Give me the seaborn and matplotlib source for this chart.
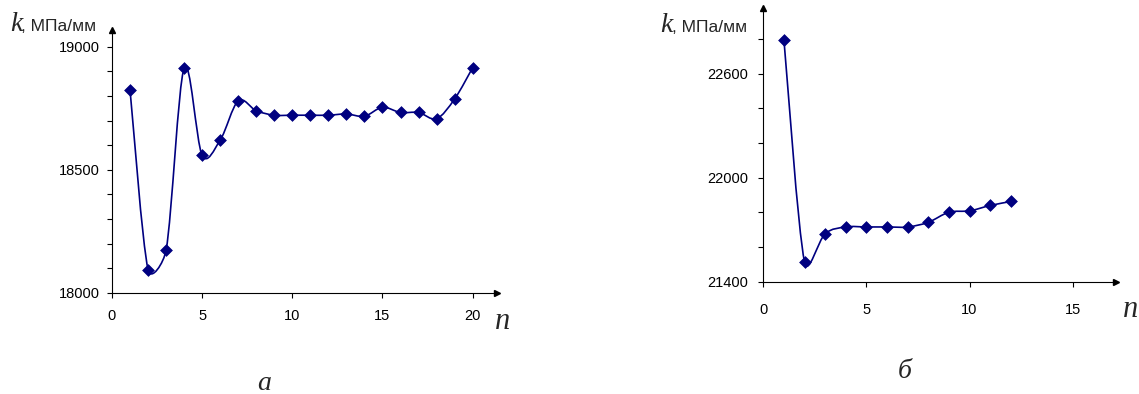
import numpy as np
import pandas as pd
import matplotlib
matplotlib.use("Agg")
import matplotlib.pyplot as plt
from matplotlib.path import Path
from matplotlib.patches import PathPatch
from matplotlib.ticker import MultipleLocator
import seaborn as sns

# Stiffness k (MPa/mm) versus number of cycles n
n_a = list(range(1, 21))
k_a = [18824, 18095, 18174, 18913, 18559, 18621, 18780, 18740, 18722, 18722,
       18722, 18722, 18727, 18718, 18754, 18733, 18733, 18708, 18788, 18915]

n_b = list(range(1, 13))
k_b = [22796, 21514, 21677, 21716, 21716, 21716, 21716, 21743, 21801, 21809,
       21840, 21863]

panel_letters = ["а", "б"]
x_ticks_a = [0, 5, 10, 15, 20]
x_ticks_b = [0, 5, 10, 15]
y_ticks_a = [18000, 18500, 19000]
y_ticks_b = [21400, 22000, 22600]

sns.set_theme(style="white")
plt.rcParams["font.family"] = ["Liberation Sans", "DejaVu Sans"]

LINE = "#000080"
W, H = 1139, 394
fig = plt.figure(figsize=(W / 100, H / 100), dpi=100)


def px_box(x0, y_top, x1, y_bot):
    return [x0 / W, 1 - y_bot / H, (x1 - x0) / W, (y_bot - y_top) / H]


def smooth_path(ax, x, y, tension=1 / 6, clip=0.5):
    """Smoothed line through the points: Catmull-Rom style Bezier handles,
    each limited to a fraction of the segment it belongs to (screen space)."""
    pts = ax.transData.transform(np.column_stack([x, y]).astype(float))
    m = len(pts)
    seg = np.linalg.norm(np.diff(pts, axis=0), axis=1)

    def handle(i, forward):
        prev_p = pts[i - 1] if i > 0 else pts[i]
        next_p = pts[i + 1] if i < m - 1 else pts[i]
        vec = (next_p - prev_p) * tension
        limit = clip * (seg[i] if forward else seg[i - 1])
        length = np.linalg.norm(vec)
        if length > limit > 0:
            vec = vec * limit / length
        return pts[i] + vec if forward else pts[i] - vec

    verts = [pts[0]]
    codes = [Path.MOVETO]
    for i in range(m - 1):
        verts += [handle(i, True), handle(i + 1, False), pts[i + 1]]
        codes += [Path.CURVE4] * 3
    verts = ax.transData.inverted().transform(np.array(verts))
    return Path(verts, codes)


def draw_panel(ax, n, k, xlim, ylim, xt, yt, minor, xpad, ypad):
    df = pd.DataFrame({"n": n, "k": k})
    ax.set_xlim(*xlim)
    ax.set_ylim(*ylim)
    sns.scatterplot(data=df, x="n", y="k", marker="D", s=36, color=LINE,
                    edgecolor=LINE, linewidth=0.5, ax=ax, zorder=3, legend=False)
    ax.set_xlim(*xlim)
    ax.set_ylim(*ylim)
    ax.add_patch(PathPatch(smooth_path(ax, df["n"], df["k"]), facecolor="none",
                           edgecolor=LINE, lw=1.2, zorder=2))
    ax.set_xticks(xt)
    ax.set_yticks(yt)
    ax.yaxis.set_minor_locator(MultipleLocator(minor))
    ax.set_xlabel("")
    ax.set_ylabel("")
    for s in ("top", "right"):
        ax.spines[s].set_visible(False)
    for s in ("left", "bottom"):
        ax.spines[s].set_color("black")
        ax.spines[s].set_linewidth(0.8)
    ax.tick_params(axis="both", which="both", direction="out", length=3.5,
                   width=0.8, color="black", labelsize=10.5, labelcolor="black")
    ax.tick_params(axis="x", pad=xpad, bottom=True)
    ax.tick_params(axis="y", which="both", pad=ypad, left=True)
    ax.tick_params(axis="x", which="minor", bottom=False)
    ax.patch.set_alpha(0)
    # arrowheads at the axis ends
    ax.plot(1, 0, ">", transform=ax.transAxes, clip_on=False, ms=4.5,
            color="black", zorder=5)
    ax.plot(0, 1, "^", transform=ax.transAxes, clip_on=False, ms=4.5,
            color="black", zorder=5)


ax_a = fig.add_axes(px_box(112, 30, 497, 293))
draw_panel(ax_a, n_a, k_a, (0, 21.35), (18000, 19068), x_ticks_a, y_ticks_a,
           100, 8, 5)

ax_b = fig.add_axes(px_box(763.3, 8, 1116, 281.7))
draw_panel(ax_b, n_b, k_b, (0, 17.1), (21400, 22980), x_ticks_b, y_ticks_b,
           200, 11.5, 7.5)

serif_it = dict(family="Liberation Serif", style="italic")


def fx(x):
    return x / W


def fy(y):
    return 1 - y / H


# axis titles
for x_k, x_u, y_b in [(10, 21, 31), (660, 672, 32)]:
    fig.text(fx(x_k), fy(y_b), "k", fontsize=20, va="baseline", ha="left", **serif_it)
    fig.text(fx(x_u), fy(y_b), ", МПа/мм", fontsize=12.5, va="baseline", ha="left",
             family=["Liberation Sans", "DejaVu Sans"])

fig.text(fx(495), fy(329), "n", fontsize=22, va="baseline", ha="left", **serif_it)
fig.text(fx(1123), fy(317), "n", fontsize=22, va="baseline", ha="left", **serif_it)

# panel letters
fig.text(fx(264), fy(390), panel_letters[0], fontsize=20, va="baseline",
         ha="center", **serif_it)
fig.text(fx(905), fy(378), panel_letters[1], fontsize=20, va="baseline",
         ha="center", **serif_it)

fig.savefig("out.png", dpi=100, facecolor="white")
